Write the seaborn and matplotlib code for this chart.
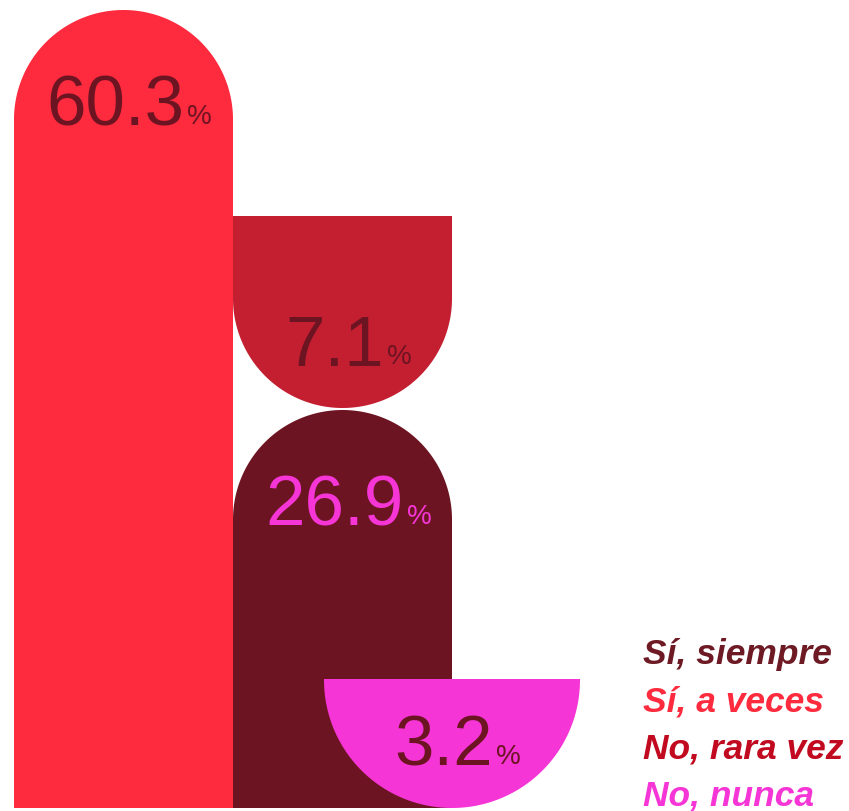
import matplotlib
matplotlib.use("Agg")
import matplotlib.pyplot as plt
from matplotlib.patches import Polygon
import numpy as np
import seaborn as sns
import pandas as pd

# ---- data ----
categories = ["Sí, siempre", "Sí, a veces", "No, rara vez", "No, nunca"]
values = [26.9, 60.3, 7.1, 3.2]

# ---- style ----
bar_colors = {"Sí, siempre": "#6D1422", "Sí, a veces": "#FE2A3D",
              "No, rara vez": "#C41E31", "No, nunca": "#F535D6"}
legend_colors = {"Sí, siempre": "#6D1A24", "Sí, a veces": "#FE2A3D",
                 "No, rara vez": "#C1091F", "No, nunca": "#F535D6"}
label_colors = {"Sí, siempre": "#F535D6", "Sí, a veces": "#6D1422",
                "No, rara vez": "#6D1422", "No, nunca": "#6D1422"}
# decorative layout (pixel-space): left, width, top, bottom, rounded end
layout = {
    "Sí, a veces":  dict(left=14,  width=219, top=10,  bottom=808, round="top"),
    "No, rara vez": dict(left=233, width=219, top=216, bottom=408, round="bottom"),
    "Sí, siempre":  dict(left=233, width=219, top=410, bottom=808, round="top"),
    "No, nunca":    dict(left=324, width=256, top=679, bottom=808, round="bottom"),
}
draw_order = ["Sí, a veces", "No, rara vez", "Sí, siempre", "No, nunca"]

df = pd.DataFrame({"category": categories, "value": values})

sns.set_theme(style="white")
plt.rcParams["font.family"] = ["Liberation Sans", "DejaVu Sans"]

W, H = 849, 811
fig = plt.figure(figsize=(W / 100, H / 100), dpi=100)
ax = fig.add_axes([0, 0, 1, 1])
ax.set_xlim(0, W)
ax.set_ylim(H, 0)
ax.axis("off")

fig.canvas.draw()
renderer = fig.canvas.get_renderer()


def shape(L):
    r = L["width"] / 2
    cx = L["left"] + r
    x0, x1 = L["left"], L["left"] + L["width"]
    if L["round"] == "top":
        cy = L["top"] + r
        th = np.linspace(np.pi, 2 * np.pi, 120)
        arc = np.column_stack([cx + r * np.cos(th), cy + r * np.sin(th)])
        pts = np.vstack([[[x0, L["bottom"]]], arc, [[x1, L["bottom"]]]])
    else:
        cy = L["bottom"] - r
        th = np.linspace(0, np.pi, 120)
        arc = np.column_stack([cx + r * np.cos(th), cy + r * np.sin(th)])
        pts = np.vstack([[[x0, L["top"]], [x1, L["top"]]], arc])
    return pts, cx


for cat in draw_order:
    val = float(df.loc[df.category == cat, "value"].iloc[0])
    L = layout[cat]
    pts, cx = shape(L)
    ax.add_patch(Polygon(pts, closed=True, facecolor=bar_colors[cat],
                         edgecolor="none", lw=0))
    if L["round"] == "top":
        base = L["top"] + 116
    else:
        base = L["bottom"] - 42
    t = ax.text(cx - 8, base, f"{val:.1f}", ha="center", va="baseline",
                fontsize=51, color=label_colors[cat])
    bb = t.get_window_extent(renderer=renderer)
    x_right = ax.transData.inverted().transform((bb.x1, 0))[0]
    ax.text(x_right + 3, base - 2, "%", ha="left", va="baseline",
            fontsize=20, color=label_colors[cat])

# legend as coloured text
for i, cat in enumerate(categories):
    ax.text(643, 664 + i * 47.3, cat, ha="left", va="baseline",
            fontsize=25.5, fontweight="bold", fontstyle="italic",
            color=legend_colors[cat])

fig.savefig("out.png", dpi=100)
